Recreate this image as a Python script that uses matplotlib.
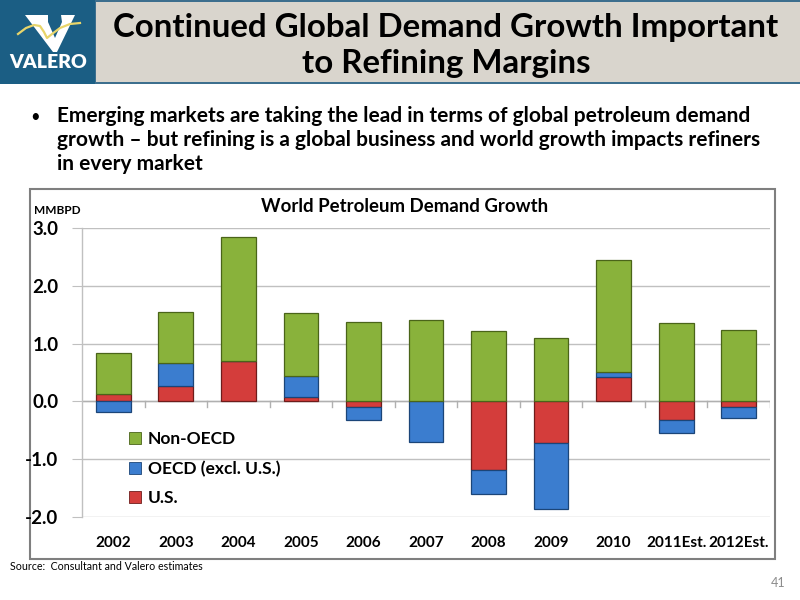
import matplotlib
matplotlib.use("Agg")
import matplotlib.pyplot as plt
import numpy as np
from matplotlib.patches import Rectangle, Polygon, Patch

plt.rcParams['font.family'] = ['Lato', 'DejaVu Sans']

# data (MMBPD)
years = ['2002', '2003', '2004', '2005', '2006', '2007', '2008', '2009', '2010',
         '2011Est.', '2012Est.']
us = [0.13, 0.27, 0.70, 0.07, -0.10, 0.0, -1.18, -0.72, 0.42, -0.32, -0.10]
oecd = [-0.18, 0.40, 0.0, 0.37, -0.23, -0.71, -0.42, -1.14, 0.09, -0.23, -0.18]
non_oecd = [0.70, 0.87, 2.15, 1.09, 1.38, 1.41, 1.22, 1.10, 1.94, 1.35, 1.23]

series_names = ['U.S.', 'OECD (excl. U.S.)', 'Non-OECD']
face_colors = ['#d43d3b', '#3b7dcf', '#89b23b']
edge_colors = ['#6e1c1b', '#1b4578', '#4a6419']

fig = plt.figure(figsize=(8, 6), dpi=100)
fig.patch.set_facecolor('white')

# header band
fig.patches.append(Rectangle((0, 1 - 84 / 600), 1, 84 / 600, transform=fig.transFigure,
                             facecolor='#3d6f8e', edgecolor='none', zorder=0))
fig.patches.append(Rectangle((96 / 800, 1 - 82 / 600), 1, 80 / 600, transform=fig.transFigure,
                             facecolor='#d9d5cd', edgecolor='none', zorder=1))
fig.patches.append(Rectangle((0, 1 - 84 / 600), 95 / 800, 84 / 600, transform=fig.transFigure,
                             facecolor='#1b5e84', edgecolor='none', zorder=1))

# logo: white V with yellow swoosh
v = np.array([[25, 15], [48, 15], [48, 22], [55, 38], [62, 22], [61, 15], [75, 15],
              [57, 52], [53, 52]])
fig.patches.append(Polygon(np.column_stack([v[:, 0] / 800, 1 - v[:, 1] / 600]),
                           closed=True, transform=fig.transFigure, facecolor='white',
                           edgecolor='none', zorder=2))
sx = np.array([18, 26, 34, 40, 44, 47, 52, 60, 70, 80])
sy = np.array([34, 28, 25, 26, 32, 38, 34, 28, 24, 23])
fig.add_artist(plt.Line2D(sx / 800, 1 - sy / 600, transform=fig.transFigure,
                          color='#e8d56a', lw=1.6, zorder=3))
fig.text(48 / 800, 1 - 63 / 600, 'VALERO', color='white', fontsize=14, fontweight='heavy',
         ha='center', va='center', zorder=3)

fig.text(446 / 800, 1 - 27 / 600, 'Continued Global Demand Growth Important',
         fontsize=23.8, fontweight='bold', ha='center', va='center', zorder=3)
fig.text(446 / 800, 1 - 64 / 600, 'to Refining Margins',
         fontsize=23.8, fontweight='bold', ha='center', va='center', zorder=3)

# bullet text
fig.text(30 / 800, 1 - 117 / 600, '\u2022', fontsize=12, ha='left', va='center')
bullet = ('Emerging markets are taking the lead in terms of global petroleum demand\n'
          'growth \u2013 but refining is a global business and world growth impacts refiners\n'
          'in every market')
fig.text(57 / 800, 1 - 106 / 600, bullet, fontsize=15, fontweight='bold', ha='left',
         va='top', linespacing=1.25)

# chart frame
fig.patches.append(Rectangle((30 / 800, 1 - 559 / 600), 745 / 800, 370 / 600,
                             transform=fig.transFigure, facecolor='white',
                             edgecolor='#7f7f7f', lw=1.5, zorder=0))

ax = fig.add_axes([82 / 800, 1 - 517 / 600, 688 / 800, 289 / 600])
ax.set_zorder(5)
ax.set_facecolor('none')
x = np.arange(len(years))
pos_bottom = np.zeros(len(years))
neg_bottom = np.zeros(len(years))
for vals, fc, ec in zip([us, oecd, non_oecd], face_colors, edge_colors):
    vals = np.array(vals)
    bottom = np.where(vals >= 0, pos_bottom, neg_bottom)
    ax.bar(x, vals, 0.555, bottom=bottom, color=fc, edgecolor=ec, linewidth=0.9, zorder=3)
    pos_bottom = pos_bottom + np.clip(vals, 0, None)
    neg_bottom = neg_bottom + np.clip(vals, None, 0)

ax.set_xlim(-0.5, len(years) - 0.5)
ax.set_ylim(-2.0, 3.0)
ax.set_yticks([-2, -1, 0, 1, 2, 3])
ax.set_yticklabels(['-2.0', '-1.0', '0.0', '1.0', '2.0', '3.0'])
ax.yaxis.grid(True, color='#c0c0c0', lw=1.0, zorder=0)
for s in ['top', 'right', 'bottom']:
    ax.spines[s].set_visible(False)
ax.spines['left'].set_color('#c0c0c0')
ax.spines['left'].set_linewidth(1.0)
ax.axhline(0, color='#b0b0b0', lw=1.0, zorder=2)
# category boundary ticks on the zero line
for b in np.arange(0.5, len(years) - 0.5, 1.0):
    ax.plot([b, b], [0, -0.1], color='#b0b0b0', lw=1.0, zorder=2)
ax.plot([len(years) - 0.5] * 2, [0, -0.1], color='#b0b0b0', lw=1.0, zorder=2)

ax.tick_params(axis='y', length=7, color='#c0c0c0', labelsize=13.5, pad=10)
ax.tick_params(axis='x', length=0, labelsize=11, pad=14)
ax.set_xticks(x)
ax.set_xticklabels(years)
for t in ax.get_xticklabels() + ax.get_yticklabels():
    t.set_fontweight('bold')

fig.text(405 / 800, 1 - 207 / 600, 'World Petroleum Demand Growth', fontsize=13.4,
         fontweight='bold', ha='center', va='center')
fig.text(34 / 800, 1 - 211 / 600, 'MMBPD', fontsize=8.5, fontweight='bold',
         ha='left', va='center')

handles = [Patch(facecolor=face_colors[i], edgecolor=edge_colors[i], lw=0.6) for i in [2, 1, 0]]
labels = [series_names[i] for i in [2, 1, 0]]
ax.legend(handles, labels, loc='upper left', bbox_to_anchor=(0.045, 0.35), frameon=False,
          prop={'weight': 'bold', 'size': 12.5}, handlelength=0.7,
          handleheight=0.7, handletextpad=0.4, labelspacing=0.75)

fig.text(10 / 800, 1 - 566 / 600, 'Source:  Consultant and Valero estimates', fontsize=7.7,
         ha='left', va='center')
fig.text(778 / 800, 1 - 583 / 600, '41', fontsize=9, color='#8c8c8c', ha='center', va='center')

fig.savefig('out.png', dpi=100)
